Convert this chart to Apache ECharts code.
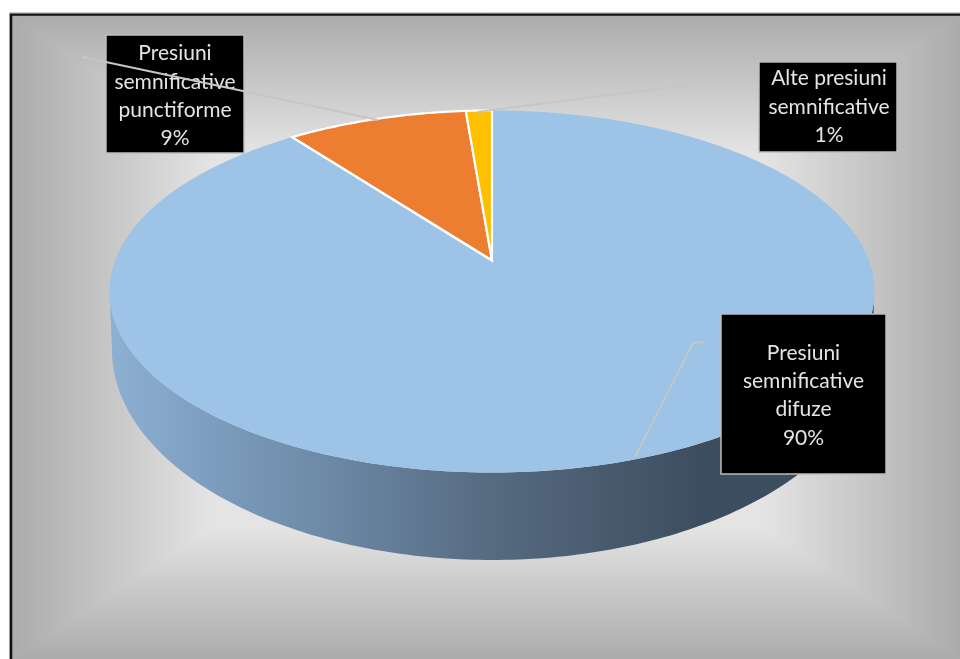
<!DOCTYPE html>
<html><head><meta charset="utf-8">
<style>html,body{margin:0;padding:0;background:#fff}#c{width:960px;height:659px}</style>
<script src="https://cdn.jsdelivr.net/npm/echarts@6/dist/echarts.min.js"></script>
</head><body><div id="c"></div>
<script>
// Data (clockwise from 12 o'clock)
var categories = [["Presiuni","semnificative","difuze"],["Presiuni","semnificative","punctiforme"],["Alte presiuni","semnificative"]];
var values = [89.7, 9.0, 1.3];
var sliceColors = ["#9DC3E6", "#ED7D31", "#FFC000"];

var W = 960, H = 659;
var chart = echarts.init(document.getElementById('c'), null, {renderer:'canvas', width:W, height:H});

// perspective disc
var CX = 492, CY = 291.5, RX = 382.5, RY = 181, SHIFT = -31;
var K = SHIFT / RY;
function project(a){ // a: radians clockwise from top
  var u = Math.sin(a), v = -Math.cos(a), d = 1 + K * v;
  return [CX + RX * Math.sqrt(1 - K * K) * u / d, CY + (RY * v + SHIFT) / d];
}
var apex = [CX, CY + SHIFT];
var total = values.reduce(function(s, v){ return s + v; }, 0);

function sidePoints(){
  var pts = [], i, a;
  for (i = 0; i <= 180; i++) { a = Math.PI * i / 180; pts.push([CX + RX * Math.cos(a), CY + RY * Math.sin(a)]); }
  var lx = 380, ly = 350, lr = 210;
  for (i = 180; i >= 0; i--) { a = Math.PI * i / 180; pts.push([CX + lx * Math.cos(a), ly + lr * Math.sin(a)]); }
  return pts;
}

function boxText(b, lines, pct){
  var all = lines.concat([pct]);
  return {
    type:'group', z2:50, children:[
      {type:'rect', shape:{x:b[0],y:b[1],width:b[2],height:b[3]}, style:{fill:'#000',stroke:'#BDBDBD',lineWidth:1.5}, z2:50},
      {type:'text', z2:51, style:{x:b[0]+b[2]/2+b[4],y:b[1]+b[3]/2+b[5],text:all.join('\n'),fill:'#E4E4E4',font:'21px Lato',lineHeight:28.4,align:'center',verticalAlign:'middle'}}
    ]};
}
// box: x, y, w, h, text nudge x, text nudge y
var boxes = [[721,314,165,160,0,1.5],[106,35,138,118,0,2],[759,62,138,90,1,0]];
var leaders = [
  [[635,457],[693,343],[705,342]],
  [[378,120],[243,91],[82,57]],
  [[477,112],[600,96],[740,79]]
];

function renderItem(params, api){
  var i = params.dataIndex;
  var start = api.value(1) / total * 2 * Math.PI, end = api.value(2) / total * 2 * Math.PI;
  var pts = [apex];
  var n = Math.max(8, Math.round((end - start) * 120));
  for (var s = 0; s <= n; s++) pts.push(project(start + (end - start) * s / n));
  var children = [];
  if (i === 0) {
    children.push({type:'polygon', z2:1, shape:{points:sidePoints()}, style:{
      fill:new echarts.graphic.LinearGradient(0,0,1,0,[
        {offset:0,color:'#8DB0D3'},{offset:0.12,color:'#7E9FC0'},{offset:0.3,color:'#6B87A4'},
        {offset:0.5,color:'#566A80'},{offset:0.78,color:'#3C4D5F'},{offset:1,color:'#3C4D5F'}])}});
  }
  children.push({type:'polygon', z2:5+i, shape:{points:pts}, style:{fill:api.visual('color'),stroke:i===0?null:'#fff',lineWidth:2.2}});
  if (i === 0) {
    children.push({type:'line', z2:9, shape:{x1:apex[0],y1:apex[1],x2:project(end)[0],y2:project(end)[1]}, style:{stroke:'#fff',lineWidth:2.2}});
  }
  children.push({type:'polyline', z2:60, shape:{points:leaders[i]}, style:{stroke:'#C6C6C6',lineWidth:2,fill:null}});
  children.push(boxText(boxes[i],categories[i],Math.round(values[i]/total*100)+'%'));
  return {type:'group', children:children};
}

var acc = 0;
var seriesData = values.map(function(v, i){
  var row = {value:[v, acc, acc + v], itemStyle:{color:sliceColors[i]}};
  acc += v; return row;
});

// rectangular path gradient backdrop
var L = 12, T = 15, R = 960, B = 659, MX = 490, MY = 345;
var stops = [{offset:0,color:'#ABABAB'},{offset:0.42,color:'#E4E4E4'},{offset:1,color:'#E4E4E4'}];
function grad(x0,y0,x1,y1){ return new echarts.graphic.LinearGradient(x0,y0,x1,y1,stops,true); }
chart.setOption({
  animation:false,
  backgroundColor:'#fff',
  graphic:{elements:[
    {type:'rect',silent:true,z:-12,shape:{x:L,y:T,width:R-L,height:MY-T},style:{fill:grad(0,T,0,MY)}},
    {type:'rect',silent:true,z:-12,shape:{x:L,y:MY,width:R-L,height:B-MY},style:{fill:grad(0,B,0,MY)}},
    {type:'polygon',silent:true,z:-11,shape:{points:[[L,T],[L,B],[MX,MY]]},style:{fill:grad(L,0,MX,0)}},
    {type:'polygon',silent:true,z:-11,shape:{points:[[R,T],[R,B],[MX,MY]]},style:{fill:grad(R,0,MX,0)}},
    {type:'polyline',silent:true,z:-9,shape:{points:[[11,659],[11,14.5],[960,14.5]]},style:{stroke:'#111',lineWidth:2.5,fill:null}},
    {type:'polyline',silent:true,z:-9,shape:{points:[[9.5,659],[9.5,13],[960,13]]},style:{stroke:'#999',lineWidth:1,fill:null}}
  ]},
  series:[{type:'custom', coordinateSystem:'none', renderItem:renderItem, data:seriesData, silent:true}]
});
</script></body></html>
